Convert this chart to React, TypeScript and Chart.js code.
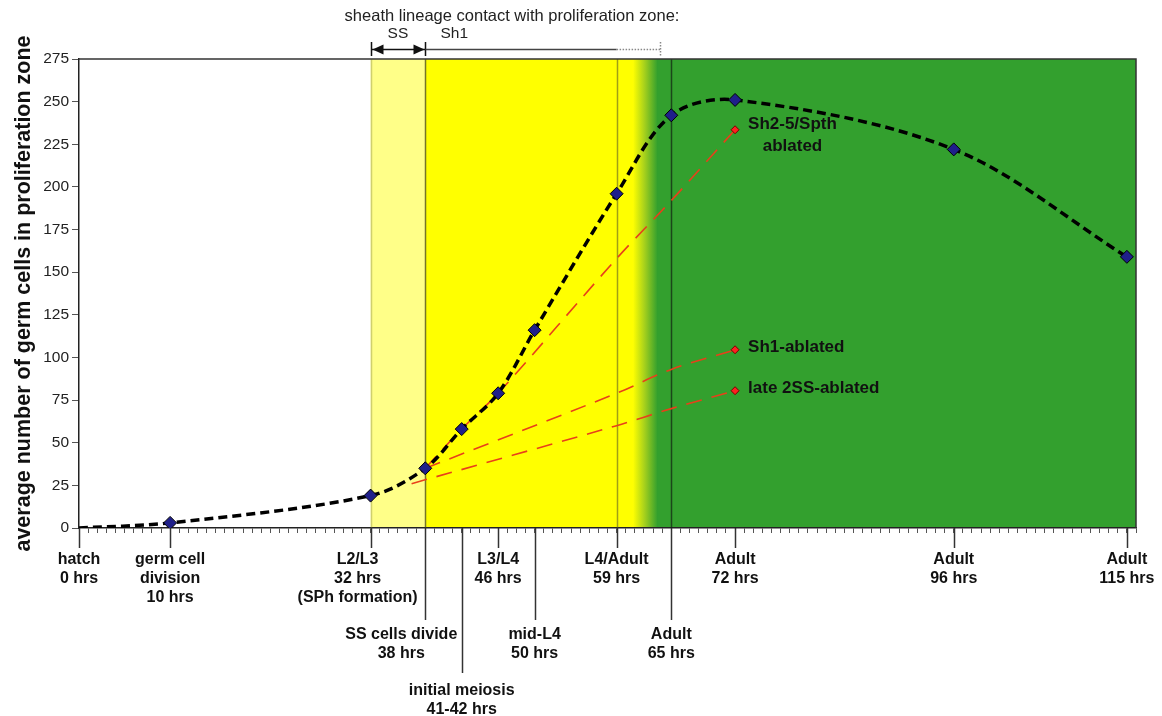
import React, { useEffect, useRef } from "react";
import { Chart, registerables } from "chart.js";

Chart.register(...registerables);

// ---- data ----
const hours = [0, 10, 32, 38, 42, 46, 50, 59, 65, 72, 96, 115];
const germCells = [0, 3, 19, 35, 58, 79, 116, 196, 242, 251, 222, 159];

const sh25Hours = [38, 42, 46, 59, 65, 72];
const sh25Cells = [35, 58, 79, 158, 192, 233.5];
const sh1Hours = [38, 59, 65, 72];
const sh1Cells = [35, 79, 93, 104.5];
const lateSSHours = [36.5, 59, 65, 72];
const lateSSCells = [26, 60, 70, 80.5];

const endLabels = [["Sh2-5/Spth", "ablated"], ["Sh1-ablated"], ["late 2SS-ablated"]];

const yTickValues = [0, 25, 50, 75, 100, 125, 150, 175, 200, 225, 250, 275];
const yTitle = "average number of germ cells in proliferation zone";

const eventHours = [0, 10, 32, 38, 42, 46, 50, 59, 65, 72, 96, 115];
const eventLabels = [
  ["hatch", "0 hrs"],
  ["germ cell", "division", "10 hrs"],
  ["L2/L3", "32 hrs", "(SPh formation)"],
  ["SS cells divide", "38 hrs"],
  ["initial meiosis", "41-42 hrs"],
  ["L3/L4", "46 hrs"],
  ["mid-L4", "50 hrs"],
  ["L4/Adult", "59 hrs"],
  ["Adult", "65 hrs"],
  ["Adult", "72 hrs"],
  ["Adult", "96 hrs"],
  ["Adult", "115 hrs"],
];
const eventRow = [0, 0, 0, 1, 2, 0, 1, 0, 1, 0, 0, 0];
const eventLabelShift = [0, 0, -13, -24, 0, 0, 0, 0, 0, 0, 0, 0];

// stage shading boundaries (hrs)
const ssStart = 32;
const sh1Start = 38;
const fadeStart = 60.8;
const fadeEnd = 63.5;
const sh1End = 59;
const sh1DottedEnd = 63.8;
const plotLines = [32, 38, 59, 65];
const plotLineColors = ["rgba(120,120,60,0.35)", "rgba(60,60,30,0.7)", "rgba(80,80,40,0.55)", "rgba(20,40,20,0.75)"];

const headerText = "sheath lineage contact with proliferation zone:";

const FONT = '"Liberation Sans", Arial, Helvetica, sans-serif';

const bgPlugin = {
  id: "bgPlugin",
  beforeDraw(chart: any) {
    const { ctx, chartArea: a, scales } = chart;
    const x = scales.x;
    const px = (h: number) => x.getPixelForValue(h);
    const h = a.bottom - a.top;
    ctx.save();
    ctx.fillStyle = "#ffffff";
    ctx.fillRect(0, 0, chart.width, chart.height);
    ctx.fillStyle = "#ffff88";
    ctx.fillRect(px(ssStart), a.top, px(sh1Start) - px(ssStart), h);
    ctx.fillStyle = "#ffff00";
    ctx.fillRect(px(sh1Start), a.top, px(fadeStart) - px(sh1Start), h);
    const g = ctx.createLinearGradient(px(fadeStart), 0, px(fadeEnd), 0);
    g.addColorStop(0, "#ffff00");
    g.addColorStop(0.45, "#a9d21c");
    g.addColorStop(1, "#33a02e");
    ctx.fillStyle = g;
    ctx.fillRect(px(fadeStart), a.top, px(fadeEnd) - px(fadeStart) + 0.5, h);
    ctx.fillStyle = "#33a02e";
    ctx.fillRect(px(fadeEnd), a.top, a.right - px(fadeEnd), h);
    ctx.restore();
  },
  beforeDatasetsDraw(chart: any) {
    const { ctx, chartArea: a, scales } = chart;
    const x = scales.x;
    ctx.save();
    plotLines.forEach((hr, i) => {
      const xx = Math.round(x.getPixelForValue(hr)) + 0.5;
      ctx.strokeStyle = plotLineColors[i];
      ctx.lineWidth = 1.5;
      ctx.beginPath();
      ctx.moveTo(xx, a.top);
      ctx.lineTo(xx, a.bottom);
      ctx.stroke();
    });
    // frame top & right
    ctx.strokeStyle = "#333";
    ctx.lineWidth = 1.5;
    ctx.beginPath();
    ctx.moveTo(a.left, a.top);
    ctx.lineTo(a.right, a.top);
    ctx.lineTo(a.right, a.bottom);
    ctx.stroke();
    ctx.restore();
  },
  afterDraw(chart: any) {
    const { ctx, chartArea: a, scales } = chart;
    const x = scales.x;
    const px = (h: number) => x.getPixelForValue(h);
    ctx.save();
    // event lines and labels below the axis
    const lineEnd = [20, 92, 145];
    const textStart = [32, 107, 163];
    const lh = 19;
    ctx.font = `bold 16px ${FONT}`;
    ctx.fillStyle = "#111";
    ctx.textAlign = "center";
    ctx.textBaseline = "middle";
    eventHours.forEach((hr, i) => {
      const xx = Math.round(px(hr)) + 0.5;
      const row = eventRow[i];
      ctx.strokeStyle = "#333";
      ctx.lineWidth = 1.5;
      ctx.beginPath();
      ctx.moveTo(xx, a.bottom);
      ctx.lineTo(xx, a.bottom + lineEnd[row]);
      ctx.stroke();
      const cx = px(hr) + eventLabelShift[i];
      eventLabels[i].forEach((t, j) => {
        ctx.fillText(t, cx, a.bottom + textStart[row] + j * lh);
      });
    });

    // header annotation
    ctx.font = `16.5px ${FONT}`;
    ctx.fillStyle = "#222";
    ctx.fillText(headerText, 512, 16);
    ctx.font = `15.5px ${FONT}`;
    ctx.fillText("SS", (px(ssStart) + px(sh1Start)) / 2, 34);
    ctx.fillText("Sh1", px(sh1Start) + 29, 34);

    const ay = 49.5;
    const x1 = Math.round(px(ssStart)) + 0.5;
    const x2 = Math.round(px(sh1Start)) + 0.5;
    const x3 = px(sh1End);
    const x4 = Math.round(px(sh1DottedEnd)) + 0.5;
    ctx.strokeStyle = "#111";
    ctx.lineWidth = 1.5;
    ctx.beginPath();
    ctx.moveTo(x1, 42);
    ctx.lineTo(x1, 56);
    ctx.moveTo(x2, 42);
    ctx.lineTo(x2, 56);
    ctx.moveTo(x1, ay);
    ctx.lineTo(x2, ay);
    ctx.stroke();
    ctx.fillStyle = "#111";
    ctx.beginPath();
    ctx.moveTo(x1 + 1, ay);
    ctx.lineTo(x1 + 12, ay - 5);
    ctx.lineTo(x1 + 12, ay + 5);
    ctx.closePath();
    ctx.fill();
    ctx.beginPath();
    ctx.moveTo(x2 - 1, ay);
    ctx.lineTo(x2 - 12, ay - 5);
    ctx.lineTo(x2 - 12, ay + 5);
    ctx.closePath();
    ctx.fill();
    ctx.strokeStyle = "#444";
    ctx.beginPath();
    ctx.moveTo(x2, ay);
    ctx.lineTo(x3, ay);
    ctx.stroke();
    ctx.strokeStyle = "#888";
    ctx.setLineDash([1.5, 1.5]);
    ctx.beginPath();
    ctx.moveTo(x3, ay);
    ctx.lineTo(x4, ay);
    ctx.moveTo(x4, 42);
    ctx.lineTo(x4, 56);
    ctx.stroke();
    ctx.setLineDash([]);

    // labels at end of ablation series
    ctx.font = `bold 17px ${FONT}`;
    ctx.fillStyle = "#111";
    [1, 2, 3].forEach((di, k) => {
      const meta = chart.getDatasetMeta(di);
      const pt = meta.data[meta.data.length - 1];
      const lines = endLabels[k];
      const left = pt.x + 13;
      if (lines.length === 1) {
        ctx.textAlign = "left";
        ctx.fillText(lines[0], left, pt.y - 2);
      } else {
        const w = ctx.measureText(lines[0]).width;
        ctx.textAlign = "center";
        lines.forEach((t, j) => ctx.fillText(t, left + w / 2, pt.y - 5 + j * 22));
      }
    });
    ctx.restore();
  },
};

const pts = (xs: number[], ys: number[]) => xs.map((h, i) => ({ x: h, y: ys[i] }));
const lastOnly = (n: number, r: number) => Array.from({ length: n }, (_, i) => (i === n - 1 ? r : 0));

export default function App() {
  const ref = useRef<HTMLCanvasElement>(null);
  useEffect(() => {
    document.body.style.margin = "0";
    const redDs = (xs: number[], ys: number[]) => ({
      data: pts(xs, ys),
      borderColor: "#e8401a",
      borderWidth: 1.6,
      borderDash: [16, 10],
      tension: 0.33,
      pointStyle: "rectRot",
      pointRadius: lastOnly(xs.length, 4),
      pointBackgroundColor: "#ff2020",
      pointBorderColor: "#7a0000",
      pointBorderWidth: 1,
      fill: false,
    });
    const chart = new Chart(ref.current as HTMLCanvasElement, {
      type: "line",
      data: {
        datasets: [
          {
            data: pts(hours, germCells),
            borderColor: "#000",
            borderWidth: 3.5,
            borderDash: [9, 5],
            tension: 0.33,
            pointStyle: "rectRot",
            pointRadius: hours.map((_, i) => (i === 0 ? 0 : 6.5)),
            pointBackgroundColor: "#1f1f8a",
            pointBorderColor: "#000",
            pointBorderWidth: 1,
            fill: false,
          } as any,
          redDs(sh25Hours, sh25Cells) as any,
          redDs(sh1Hours, sh1Cells) as any,
          redDs(lateSSHours, lateSSCells) as any,
        ],
      },
      options: {
        responsive: false,
        animation: false,
        events: [],
        layout: { padding: { top: 59, right: 26, left: 0, bottom: 0 } },
        plugins: { legend: { display: false }, tooltip: { enabled: false } },
        scales: {
          x: {
            type: "linear",
            min: 0,
            max: 116,
            afterFit: (s: any) => {
              s.height = 716 - 528;
            },
            ticks: {
              stepSize: 1,
              autoSkip: false,
              maxTicksLimit: 500,
              callback: () => "",
            },
            grid: { drawOnChartArea: false, drawTicks: true, tickLength: 5, tickColor: "#555", lineWidth: 1 },
            border: { display: true, color: "#222", width: 1.5 },
          },
          y: {
            min: 0,
            max: 275,
            afterFit: (s: any) => {
              s.width = 79;
            },
            afterBuildTicks: (s: any) => {
              s.ticks = yTickValues.map((v) => ({ value: v }));
            },
            ticks: {
              font: { family: FONT, size: 15.5 },
              color: "#222",
              padding: 3,
            },
            grid: { drawOnChartArea: false, drawTicks: true, tickLength: 7, tickColor: "#555" },
            border: { display: true, color: "#222", width: 1.5 },
            title: {
              display: true,
              text: yTitle,
              font: { family: FONT, size: 21.5, weight: "bold" },
              color: "#111",
              padding: { top: 11, bottom: 0 },
            },
          },
        },
      },
      plugins: [bgPlugin],
    } as any);
    return () => chart.destroy();
  }, []);
  return (
    <div style={{ position: "fixed", left: 0, top: 0, width: 1162, height: 716, background: "#fff" }}>
      <canvas ref={ref} width={1162} height={716} style={{ display: "block" }} />
    </div>
  );
}
